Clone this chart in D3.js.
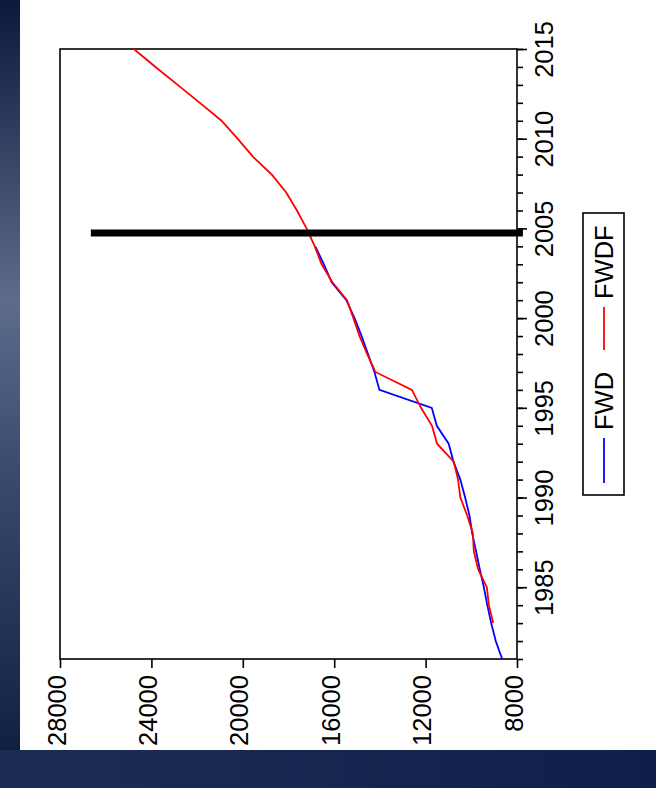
<!DOCTYPE html>
<html>
<head>
<meta charset="utf-8">
<script src="https://cdn.jsdelivr.net/npm/d3@7"></script>
<style>
  body { margin: 0; background: #fff; }
  svg { display: block; }
  text { font-family: "Liberation Sans", Arial, sans-serif; }
</style>
</head>
<body>
<div class="canvas"></div>
<script>
// data
const fwdYears = [1981, 1982, 1983, 1984, 1985, 1986, 1987, 1988, 1989, 1990, 1991, 1992,
    1993, 1994, 1995, 1996, 1997, 1998, 1999, 2000, 2001, 2002, 2003, 2004];
const fwdValues = [8650, 8930, 9130, 9300, 9450, 9630, 9790, 9960, 10080, 10270, 10480, 10780,
    10990, 11510, 11730, 14020, 14240, 14520, 14800, 15110, 15470, 16110, 16450, 16830];

const fwdfYears = [1983, 1984, 1985, 1986, 1987, 1988, 1989, 1990, 1991, 1992, 1993, 1994,
    1995, 1996, 1997, 1998, 1999, 2000, 2001, 2002, 2003, 2004, 2005, 2006, 2007, 2008,
    2009, 2010, 2011, 2012, 2013, 2014, 2015];
const fwdfValues = [9040, 9230, 9320, 9700, 9890, 9930, 10180, 10480, 10580, 10770, 11500, 11720,
    12200, 12600, 14200, 14560, 14890, 15160, 15440, 16080, 16550, 16850, 17210, 17630, 18100, 18730,
    19560, 20230, 20930, 21880, 22850, 23820, 24770];

const seriesNames = ['FWD', 'FWDF'];
const valueTicks = [28000, 24000, 20000, 16000, 12000, 8000];
const yearLabels = [1985, 1990, 1995, 2000, 2005, 2010, 2015];
const yearTicks = d3.range(1981, 2016);

// marker bar (forecast start)
const markerYear = [2004.75];
const markerFrom = [26650];
const markerTo = [7740];

const width = 656, height = 788;
const plot = { left: 60, right: 517, top: 49, bottom: 659 };

const svg = d3.select('.canvas')
    .append('svg')
    .attr('width', width)
    .attr('height', height);

// background
const defs = svg.append('defs');
const sideGrad = defs.append('linearGradient')
    .attr('id', 'side').attr('x1', 0).attr('y1', 0).attr('x2', 0).attr('y2', 1);
sideGrad.append('stop').attr('offset', '0%').attr('stop-color', '#0b1a3c');
sideGrad.append('stop').attr('offset', '38%').attr('stop-color', '#5d6c8c');
sideGrad.append('stop').attr('offset', '60%').attr('stop-color', '#3a4a6e');
sideGrad.append('stop').attr('offset', '100%').attr('stop-color', '#0b1a3c');
const bottomGrad = defs.append('linearGradient')
    .attr('id', 'bottom').attr('x1', 0).attr('y1', 0).attr('x2', 1).attr('y2', 0);
bottomGrad.append('stop').attr('offset', '0%').attr('stop-color', '#1c2d55');
bottomGrad.append('stop').attr('offset', '100%').attr('stop-color', '#0e1f4a');

svg.append('rect').attr('width', width).attr('height', height).attr('fill', '#fff');
svg.append('rect').attr('x', 0).attr('y', 0).attr('width', 20).attr('height', height)
    .attr('fill', 'url(#side)');
svg.append('rect').attr('x', 0).attr('y', 750).attr('width', width).attr('height', height - 750)
    .attr('fill', 'url(#bottom)');

const x = d3.scaleLinear().domain([28000, 8000]).range([plot.left, plot.right]);
const y = d3.scaleLinear().domain([1981, 2015]).range([plot.bottom, plot.top]);

const graph = svg.append('g');

// frame
graph.append('rect')
    .attr('x', plot.left).attr('y', plot.top)
    .attr('width', plot.right - plot.left).attr('height', plot.bottom - plot.top)
    .attr('fill', 'none').attr('stroke', '#000').attr('stroke-width', 1.6);

// bottom value axis
const xAxis = d3.axisBottom(x).tickValues(valueTicks).tickSize(9).tickFormat(d3.format('d'));
const xg = svg.append('g').attr('transform', `translate(0, ${plot.bottom})`).call(xAxis);
xg.select('.domain').remove();
xg.selectAll('line').attr('stroke-width', 1.6);
xg.selectAll('text')
    .attr('font-size', 25.5).attr('fill', '#000')
    .attr('text-anchor', 'end')
    .attr('transform', 'translate(5, 16) rotate(-90)')
    .attr('x', 0).attr('y', 0).attr('dy', 0);

// right year axis: minor and major ticks
const minorAxis = d3.axisRight(y).tickValues(yearTicks).tickSize(6).tickFormat('');
const mg = svg.append('g').attr('transform', `translate(${plot.right}, 0)`).call(minorAxis);
mg.select('.domain').remove();
mg.selectAll('line').attr('stroke-width', 1.6);

const majorAxis = d3.axisRight(y).tickValues(yearLabels).tickSize(10).tickFormat(d3.format('d'));
const yg = svg.append('g').attr('transform', `translate(${plot.right}, 0)`).call(majorAxis);
yg.select('.domain').remove();
yg.selectAll('line').attr('stroke-width', 1.6);
yg.selectAll('text')
    .attr('font-size', 25.5).attr('fill', '#000')
    .attr('text-anchor', 'middle')
    .attr('transform', 'translate(36, 0) rotate(-90)')
    .attr('x', 0).attr('y', 0).attr('dy', 0);

// series
const line = d3.line().x(d => x(d.v)).y(d => y(d.yr));
const fwd = fwdYears.map((yr, i) => ({ yr, v: fwdValues[i] }));
const fwdf = fwdfYears.map((yr, i) => ({ yr, v: fwdfValues[i] }));

graph.append('path').datum(fwd)
    .attr('d', line).attr('fill', 'none')
    .attr('stroke', '#0000ff').attr('stroke-width', 1.8);
graph.append('path').datum(fwdf)
    .attr('d', line).attr('fill', 'none')
    .attr('stroke', '#ff0000').attr('stroke-width', 1.8);

// thick marker bar
graph.selectAll('.marker')
    .data(markerYear)
    .enter().append('line')
    .attr('class', 'marker')
    .attr('x1', (d, i) => x(markerFrom[i]))
    .attr('x2', (d, i) => x(markerTo[i]))
    .attr('y1', d => y(d)).attr('y2', d => y(d))
    .attr('stroke', '#000').attr('stroke-width', 7);

// legend
const legend = svg.append('g').attr('transform', 'translate(583, 213)');
legend.append('rect')
    .attr('width', 41).attr('height', 282)
    .attr('fill', '#fff').attr('stroke', '#000').attr('stroke-width', 1.6);

const legendItems = [
    { name: seriesNames[0], colour: '#0000ff', lineFrom: 270, lineTo: 225, textAt: 217 },
    { name: seriesNames[1], colour: '#ff0000', lineFrom: 137, lineTo: 94, textAt: 86 }
];
legendItems.forEach(item => {
    legend.append('line')
        .attr('x1', 21).attr('x2', 21)
        .attr('y1', item.lineFrom).attr('y2', item.lineTo)
        .attr('stroke', item.colour).attr('stroke-width', 1.8);
    legend.append('text')
        .attr('transform', `translate(30, ${item.textAt}) rotate(-90)`)
        .attr('font-size', 25.5)
        .attr('text-anchor', 'start')
        .text(item.name);
});
</script>
</body>
</html>
